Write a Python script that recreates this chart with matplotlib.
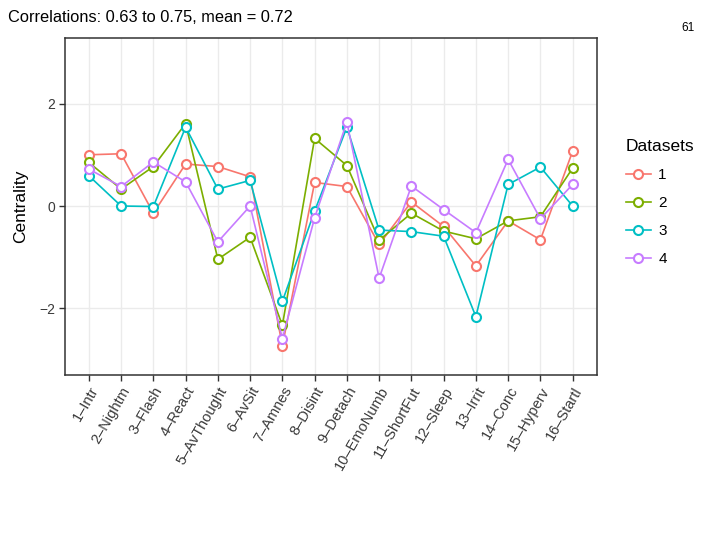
import matplotlib
matplotlib.use("Agg")
import matplotlib.pyplot as plt

categories = ["1–Intr", "2–Nightm", "3–Flash", "4–React", "5–AvThought", "6–AvSit",
              "7–Amnes", "8–Disint", "9–Detach", "10–EmoNumb", "11–ShortFut",
              "12–Sleep", "13–Irrit", "14–Conc", "15–Hyperv", "16–Startl"]
dataset_1 = [1.00, 1.02, -0.14, 0.82, 0.77, 0.57, -2.73, 0.46, 0.38, -0.75, 0.08, -0.40, -1.17, -0.29, -0.66, 1.07]
dataset_2 = [0.85, 0.33, 0.77, 1.61, -1.04, -0.61, -2.33, 1.32, 0.79, -0.67, -0.14, -0.49, -0.64, -0.29, -0.21, 0.74]
dataset_3 = [0.59, 0.00, -0.01, 1.54, 0.33, 0.50, -1.86, -0.10, 1.54, -0.47, -0.50, -0.59, -2.16, 0.42, 0.76, 0.00]
dataset_4 = [0.72, 0.38, 0.86, 0.47, -0.70, 0.00, -2.59, -0.23, 1.64, -1.41, 0.39, -0.07, -0.52, 0.91, -0.25, 0.42]
series_names = ["1", "2", "3", "4"]
colors = ["#F8766D", "#7CAE00", "#00BFC4", "#C77CFF"]
yticks = [-2, 0, 2]
ytick_labels = ["\u22122", "0", "2"]

plt.rcParams['font.family'] = ['Liberation Sans', 'DejaVu Sans']

fig = plt.figure(figsize=(7.2, 5.4), dpi=100)
ax = fig.add_axes([65/720, 1-374.5/540, (596.5-65)/720, (374.5-37.5)/540])

x = list(range(1, len(categories) + 1))
for vals, name, c in zip([dataset_1, dataset_2, dataset_3, dataset_4], series_names, colors):
    ax.plot(x, vals, color=c, lw=1.2, marker='o', markersize=6.5, markerfacecolor='white',
            markeredgecolor=c, markeredgewidth=1.5, label=name, zorder=3)

ax.set_xlim(0.26, 16.74)
ax.set_ylim(-3.29, 3.29)
ax.set_xticks(x)
ax.set_xticklabels(categories, rotation=60, ha='right', rotation_mode='anchor',
                   fontsize=10.5, color='#3a3a3a')
ax.set_yticks(yticks)
ax.set_yticklabels(ytick_labels, fontsize=10, color='#3a3a3a')
ax.tick_params(axis='both', length=4, width=1, color='#333333', pad=3)
ax.grid(True, color='#ebebeb', lw=1, zorder=0)
ax.set_axisbelow(True)
for side in ['left', 'bottom', 'top', 'right']:
    ax.spines[side].set_color('#333333')
    ax.spines[side].set_linewidth(1.1)
ax.set_ylabel("Centrality", fontsize=12.5, color='black', labelpad=8)

leg = ax.legend(title="Datasets", loc='upper left', bbox_to_anchor=(620/720, 1-133/540),
                bbox_transform=fig.transFigure, frameon=False, fontsize=11,
                title_fontsize=12.5, handlelength=1.6, labelspacing=0.92,
                handletextpad=0.5, borderaxespad=0)
leg._legend_box.align = "left"

fig.text(8/720, 1-18/540, "Correlations: 0.63 to 0.75, mean = 0.72", fontsize=11.8,
         ha='left', va='center', color='black')
fig.text(688/720, 1-28/540, "61", fontsize=8.5, ha='center', va='center', color='black')

fig.savefig("out.png", dpi=100)
